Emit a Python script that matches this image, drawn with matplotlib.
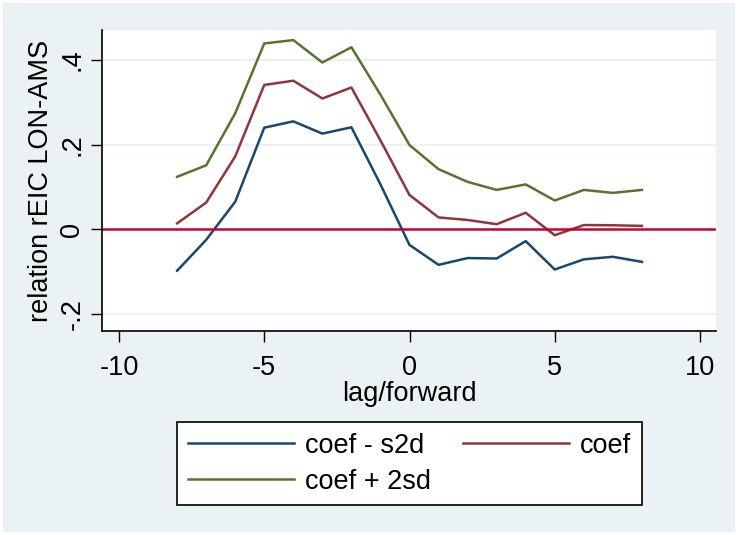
import matplotlib

matplotlib.use("Agg")
import matplotlib.pyplot as plt
from matplotlib.patches import Rectangle

# lags/forwards and estimated coefficient bands
LAGS = [-8, -7, -6, -5, -4, -3, -2, -1, 0, 1, 2, 3, 4, 5, 6, 7, 8]
COEF_LOWER = [-0.098, -0.025, 0.065, 0.240, 0.255, 0.226, 0.241, 0.106, -0.037,
              -0.084, -0.068, -0.069, -0.028, -0.095, -0.071, -0.065, -0.077]
COEF = [0.014, 0.063, 0.172, 0.341, 0.351, 0.309, 0.335, 0.210, 0.081,
        0.028, 0.022, 0.012, 0.039, -0.014, 0.010, 0.0095, 0.008]
COEF_UPPER = [0.124, 0.151, 0.274, 0.439, 0.447, 0.394, 0.430, 0.318, 0.199,
              0.142, 0.112, 0.093, 0.106, 0.068, 0.093, 0.086, 0.093]

SERIES_LABELS = ["coef - s2d", "coef", "coef + 2sd"]
X_TICKS = [-10, -5, 0, 5, 10]
Y_TICKS = [-0.2, 0, 0.2, 0.4]
Y_TICK_LABELS = ["-.2", "0", ".2", ".4"]

BACKGROUND = "#EAF2F3"
NAVY = "#1A476F"
MAROON = "#90353B"
GREEN = "#55752F"
RED = "#C10534"

W, H = 738, 535
FONT_SIZE = 19.5


def main():
    plt.rcParams["font.family"] = ["Liberation Sans", "DejaVu Sans"]

    fig = plt.figure(figsize=(W / 100, H / 100), dpi=100, facecolor="white")
    fig.add_artist(Rectangle((3 / W, 3 / H), 1 - 6 / W, 1 - 6 / H,
                             transform=fig.transFigure, facecolor=BACKGROUND,
                             edgecolor="none", zorder=-10))

    left, right, top, bottom = 102, 716, 30, 331
    ax = fig.add_axes([left / W, 1 - bottom / H, (right - left) / W, (bottom - top) / H])
    ax.set_facecolor("white")

    for value in Y_TICKS:
        ax.axhline(value, color=BACKGROUND, linewidth=1.5, zorder=0)

    lower_line, = ax.plot(LAGS, COEF_LOWER, color=NAVY, linewidth=1.8)
    coef_line, = ax.plot(LAGS, COEF, color=MAROON, linewidth=1.8)
    upper_line, = ax.plot(LAGS, COEF_UPPER, color=GREEN, linewidth=1.8)
    ax.axhline(0, color=RED, linewidth=1.8)

    ax.set_xlim(-10.585, 10.55)
    ax.set_ylim(-0.2403, 0.4708)

    ax.set_xticks(X_TICKS)
    ax.set_xticklabels([str(t) for t in X_TICKS])
    ax.set_yticks(Y_TICKS)
    ax.set_yticklabels(Y_TICK_LABELS, rotation=90, va="center")
    ax.tick_params(axis="both", length=8, width=1, labelsize=FONT_SIZE)
    ax.tick_params(axis="x", pad=9.5)
    ax.tick_params(axis="y", pad=4)

    for side in ["top", "right"]:
        ax.spines[side].set_visible(False)
    for side in ["left", "bottom"]:
        ax.spines[side].set_linewidth(1.2)

    ax.set_xlabel("lag/forward", fontsize=FONT_SIZE, labelpad=0)
    ax.set_ylabel("relation rEIC LON-AMS", fontsize=FONT_SIZE, labelpad=4)

    # two column legend, filled column by column
    legend = fig.legend(
        [lower_line, upper_line, coef_line],
        [SERIES_LABELS[0], SERIES_LABELS[2], SERIES_LABELS[1]],
        ncol=2,
        loc="upper center",
        bbox_to_anchor=(409.5 / W, 1 - 422 / H),
        borderaxespad=0,
        fontsize=FONT_SIZE,
        handlelength=3.9,
        handletextpad=0.4,
        columnspacing=1.2,
        labelspacing=0.36,
        borderpad=0.4,
        fancybox=False,
        framealpha=1,
        edgecolor="black",
    )
    legend.get_frame().set_linewidth(1.2)

    fig.savefig("out.png", dpi=100, facecolor=fig.get_facecolor())
    plt.close(fig)


if __name__ == "__main__":
    main()
